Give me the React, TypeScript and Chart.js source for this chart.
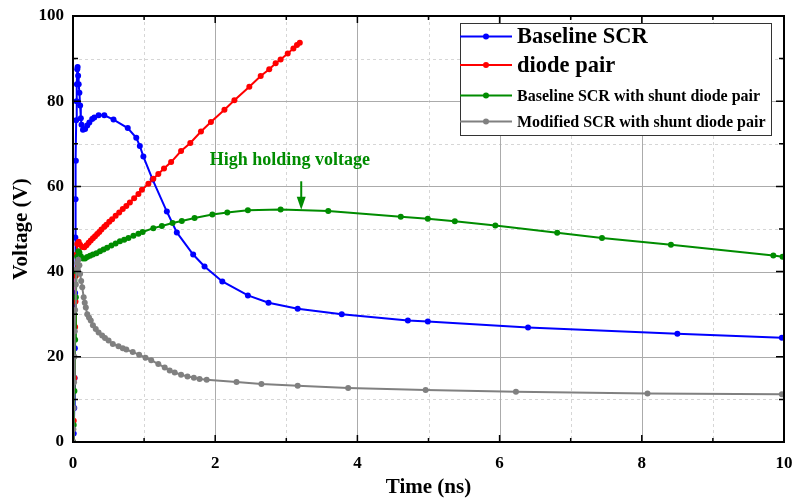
import React, { useEffect, useRef } from 'react';
import { Chart, registerables } from 'chart.js';

Chart.register(...registerables);

// ---------- data ----------
const SERIES_NAMES = [
  'Baseline SCR',
  'diode pair',
  'Baseline SCR with shunt diode pair',
  'Modified SCR with shunt diode pair',
];
const SERIES_COLORS = ['#0000FF', '#FF0000', '#008C00', '#808080'];

const blueT = [0, 0.01, 0.018, 0.022, 0.026, 0.03, 0.033, 0.036, 0.04, 0.045, 0.05, 0.055, 0.06, 0.065, 0.072, 0.08, 0.09, 0.1, 0.11, 0.12, 0.14, 0.17, 0.2, 0.23, 0.27, 0.3, 0.36, 0.44, 0.57, 0.77, 0.89, 0.94, 0.99, 1.12, 1.32, 1.46, 1.69, 1.85, 2.1, 2.46, 2.75, 3.16, 3.78, 4.71, 4.99, 6.4, 8.5, 9.97];
const blueV = [0, 2, 8, 15, 22, 35, 48, 57, 66, 75.5, 80, 84, 87.5, 88, 86, 84, 82, 79, 76, 74.5, 73.3, 73.5, 74.3, 75, 75.8, 76.2, 76.7, 76.7, 75.7, 73.7, 71.4, 69.5, 67, 61.6, 54.1, 49.2, 44, 41.2, 37.7, 34.4, 32.7, 31.3, 30, 28.5, 28.3, 26.9, 25.4, 24.5];

const redT = [0, 0.01, 0.02, 0.03, 0.035, 0.04, 0.05, 0.06, 0.08, 0.1, 0.13, 0.16, 0.19, 0.22, 0.25, 0.28, 0.31, 0.34, 0.37, 0.4, 0.44, 0.47, 0.51, 0.55, 0.6, 0.65, 0.7, 0.75, 0.8, 0.86, 0.92, 0.97, 1.06, 1.13, 1.2, 1.28, 1.38, 1.52, 1.65, 1.8, 1.94, 2.13, 2.27, 2.48, 2.64, 2.76, 2.85, 2.92, 3.02, 3.1, 3.15, 3.19];
const redV = [0, 5, 15, 27, 33, 39, 44, 46.5, 47, 46.3, 45.8, 45.7, 46.2, 46.8, 47.3, 47.8, 48.3, 48.8, 49.3, 49.9, 50.5, 51, 51.7, 52.3, 53.1, 53.9, 54.7, 55.4, 56.2, 57.2, 58.2, 59.2, 60.6, 61.8, 62.9, 64.2, 65.7, 68.3, 70.2, 72.9, 75.1, 78, 80.2, 83.4, 85.9, 87.5, 88.9, 89.8, 91.2, 92.4, 93.2, 93.7];

const greenT = [0, 0.01, 0.02, 0.03, 0.04, 0.05, 0.06, 0.075, 0.09, 0.11, 0.14, 0.17, 0.2, 0.24, 0.28, 0.33, 0.38, 0.43, 0.48, 0.54, 0.6, 0.66, 0.72, 0.78, 0.85, 0.92, 0.98, 1.13, 1.25, 1.4, 1.53, 1.71, 1.96, 2.17, 2.46, 2.92, 3.59, 4.61, 4.99, 5.37, 5.94, 6.81, 7.44, 8.41, 9.85, 9.98];
const greenV = [0, 4, 12, 24, 34, 40, 43.5, 44.8, 44.5, 43.6, 43.1, 43.1, 43.4, 43.7, 44, 44.3, 44.8, 45.2, 45.6, 46.1, 46.6, 47.1, 47.5, 47.9, 48.4, 48.9, 49.3, 50.2, 50.7, 51.4, 51.9, 52.6, 53.4, 53.9, 54.4, 54.6, 54.2, 52.9, 52.4, 51.8, 50.8, 49.1, 47.9, 46.3, 43.8, 43.5];

const grayT = [0, 0.005, 0.01, 0.015, 0.02, 0.025, 0.03, 0.04, 0.05, 0.06, 0.075, 0.09, 0.1, 0.115, 0.13, 0.15, 0.165, 0.18, 0.2, 0.225, 0.25, 0.28, 0.32, 0.36, 0.41, 0.45, 0.5, 0.56, 0.64, 0.7, 0.75, 0.84, 0.93, 1.02, 1.1, 1.2, 1.29, 1.36, 1.43, 1.52, 1.61, 1.7, 1.78, 1.88, 2.3, 2.65, 3.16, 3.87, 4.96, 6.23, 8.08, 9.97];
const grayV = [0, 3, 8, 14, 20, 26, 31, 37, 40.5, 42, 42.8, 41.5, 39.5, 37.8, 36.3, 34, 32.7, 31.6, 30, 29.2, 28.5, 27.4, 26.5, 25.7, 25, 24.4, 23.8, 23, 22.5, 22, 21.7, 21.1, 20.5, 19.8, 19.2, 18.3, 17.5, 16.8, 16.3, 15.8, 15.4, 15.1, 14.8, 14.6, 14.1, 13.6, 13.2, 12.7, 12.2, 11.8, 11.4, 11.2];

const X_TICKS = [0, 2, 4, 6, 8, 10];
const Y_TICKS = [0, 20, 40, 60, 80, 100];
const X_TITLE = 'Time (ns)';
const Y_TITLE = 'Voltage (V)';

const ANNOTATION_TEXT = 'High holding voltage';
const ANNOTATION_TEXT_AT = [3.05, 66];
const ANNOTATION_ARROW_FROM = [3.21, 61.2];
const ANNOTATION_ARROW_TO = [3.21, 54.5];

const SERIF = "'Liberation Serif', 'Times New Roman', serif";

const allT = [blueT, redT, greenT, grayT];
const allV = [blueV, redV, greenV, grayV];

const decorPlugin = {
  id: 'decor',
  beforeDatasetsDraw(chart: any) {
    const { ctx, chartArea: a, scales } = chart;
    const x = scales.x;
    const y = scales.y;
    ctx.save();
    ctx.lineWidth = 1;
    ctx.strokeStyle = '#d6d6d6';
    ctx.setLineDash([3, 3]);
    for (let t = 1; t < 10; t += 2) {
      const px = Math.round(x.getPixelForValue(t)) + 0.5;
      ctx.beginPath(); ctx.moveTo(px, a.top); ctx.lineTo(px, a.bottom); ctx.stroke();
    }
    for (let v = 10; v < 100; v += 20) {
      const py = Math.round(y.getPixelForValue(v)) + 0.5;
      ctx.beginPath(); ctx.moveTo(a.left, py); ctx.lineTo(a.right, py); ctx.stroke();
    }
    ctx.setLineDash([]);
    ctx.strokeStyle = '#ababab';
    for (let t = 2; t < 10; t += 2) {
      const px = Math.round(x.getPixelForValue(t)) + 0.5;
      ctx.beginPath(); ctx.moveTo(px, a.top); ctx.lineTo(px, a.bottom); ctx.stroke();
    }
    for (let v = 20; v < 100; v += 20) {
      const py = Math.round(y.getPixelForValue(v)) + 0.5;
      ctx.beginPath(); ctx.moveTo(a.left, py); ctx.lineTo(a.right, py); ctx.stroke();
    }
    ctx.restore();
  },
  afterDatasetsDraw(chart: any) {
    const { ctx, chartArea: a, scales } = chart;
    const x = scales.x;
    const y = scales.y;
    ctx.save();
    ctx.strokeStyle = '#000';
    ctx.lineWidth = 2;
    ctx.strokeRect(a.left, a.top, a.right - a.left, a.bottom - a.top);
    ctx.lineWidth = 1.5;
    for (let t = 1; t < 10; t += 1) {
      const len = t % 2 === 0 ? 7 : 4;
      const px = x.getPixelForValue(t);
      ctx.beginPath();
      ctx.moveTo(px, a.bottom); ctx.lineTo(px, a.bottom - len);
      ctx.moveTo(px, a.top); ctx.lineTo(px, a.top + len);
      ctx.stroke();
    }
    for (let v = 10; v < 100; v += 10) {
      const len = v % 20 === 0 ? 8 : 5;
      const py = y.getPixelForValue(v);
      ctx.beginPath();
      ctx.moveTo(a.left, py); ctx.lineTo(a.left + len, py);
      ctx.moveTo(a.right, py); ctx.lineTo(a.right - len, py);
      ctx.stroke();
    }

    // annotation
    const green = SERIES_COLORS[2];
    ctx.fillStyle = green;
    ctx.strokeStyle = green;
    ctx.font = `bold 18px ${SERIF}`;
    ctx.textAlign = 'center';
    ctx.textBaseline = 'middle';
    ctx.fillText(ANNOTATION_TEXT, x.getPixelForValue(ANNOTATION_TEXT_AT[0]), y.getPixelForValue(ANNOTATION_TEXT_AT[1]));
    const ax = x.getPixelForValue(ANNOTATION_ARROW_FROM[0]);
    const ay0 = y.getPixelForValue(ANNOTATION_ARROW_FROM[1]);
    const ay1 = y.getPixelForValue(ANNOTATION_ARROW_TO[1]);
    ctx.lineWidth = 2;
    ctx.beginPath(); ctx.moveTo(ax, ay0); ctx.lineTo(ax, ay1 - 10); ctx.stroke();
    ctx.beginPath();
    ctx.moveTo(ax - 4.5, ay1 - 13);
    ctx.lineTo(ax + 4.5, ay1 - 13);
    ctx.lineTo(ax, ay1);
    ctx.closePath();
    ctx.fill();

    // legend
    const bx = 460, by = 23, bw = 311, bh = 112;
    ctx.fillStyle = '#fff';
    ctx.fillRect(bx, by, bw, bh);
    ctx.strokeStyle = '#333';
    ctx.lineWidth = 1;
    ctx.strokeRect(bx + 0.5, by + 0.5, bw, bh);
    const rowsY = [36.5, 65, 95.5, 121.5];
    const rowFont = [22.5, 22.5, 16, 16];
    SERIES_NAMES.forEach((name, i) => {
      const ry = rowsY[i];
      ctx.strokeStyle = SERIES_COLORS[i];
      ctx.lineWidth = 2;
      ctx.beginPath(); ctx.moveTo(bx, ry); ctx.lineTo(bx + 52, ry); ctx.stroke();
      ctx.fillStyle = SERIES_COLORS[i];
      ctx.beginPath(); ctx.arc(bx + 26, ry, 3, 0, Math.PI * 2); ctx.fill();
      ctx.fillStyle = '#000';
      ctx.font = `bold ${rowFont[i]}px ${SERIF}`;
      ctx.textAlign = 'left';
      ctx.textBaseline = 'middle';
      ctx.fillText(name, bx + 57, ry + 1);
    });

    // axis titles
    ctx.fillStyle = '#000';
    ctx.font = `bold 21px ${SERIF}`;
    ctx.textAlign = 'center';
    ctx.textBaseline = 'middle';
    ctx.fillText(X_TITLE, (a.left + a.right) / 2, 488);
    ctx.save();
    ctx.translate(22, (a.top + a.bottom) / 2);
    ctx.rotate(-Math.PI / 2);
    ctx.fillText(Y_TITLE, 0, 0);
    ctx.restore();
    ctx.restore();
  },
};

export default function App() {
  const ref = useRef<HTMLCanvasElement | null>(null);
  useEffect(() => {
    if (!ref.current) return;
    const datasets = SERIES_NAMES.map((name, i) => ({
      label: name,
      data: allT[i].map((t, k) => ({ x: t, y: allV[i][k] })),
      borderColor: SERIES_COLORS[i],
      backgroundColor: SERIES_COLORS[i],
      borderWidth: 2,
      pointRadius: 3,
      pointBorderWidth: 0,
      pointHoverRadius: 0,
      tension: 0,
      fill: false,
      order: 4 - i,
    }));
    const tickFont = { family: SERIF, size: 17, weight: 'bold' as const };
    const chart = new Chart(ref.current, {
      type: 'line',
      data: { datasets },
      options: {
        responsive: false,
        animation: false,
        events: [],
        layout: { padding: { left: 0, top: 16, right: 12, bottom: 0 } },
        plugins: { legend: { display: false }, tooltip: { enabled: false } },
        scales: {
          x: {
            type: 'linear',
            min: 0,
            max: 10,
            grid: { display: false, drawTicks: false },
            border: { display: false },
            afterBuildTicks: (s: any) => { s.ticks = X_TICKS.map((v) => ({ value: v })); },
            afterFit: (s: any) => { s.height = 62; s.paddingLeft = 0; s.paddingRight = 0; },
            ticks: { font: tickFont, color: '#000', padding: 11, maxRotation: 0 },
          },
          y: {
            type: 'linear',
            min: 0,
            max: 100,
            grid: { display: false, drawTicks: false },
            border: { display: false },
            afterBuildTicks: (s: any) => { s.ticks = Y_TICKS.map((v) => ({ value: v })); },
            afterFit: (s: any) => { s.width = 73; s.paddingTop = 0; s.paddingBottom = 0; },
            ticks: { font: tickFont, color: '#000', padding: 9 },
          },
        },
      },
      plugins: [decorPlugin],
    });
    return () => chart.destroy();
  }, []);
  return (
    <div style={{ position: 'fixed', left: 0, top: 0, width: 796, height: 504, background: '#fff' }}>
      <canvas ref={ref} width={796} height={504} />
    </div>
  );
}
